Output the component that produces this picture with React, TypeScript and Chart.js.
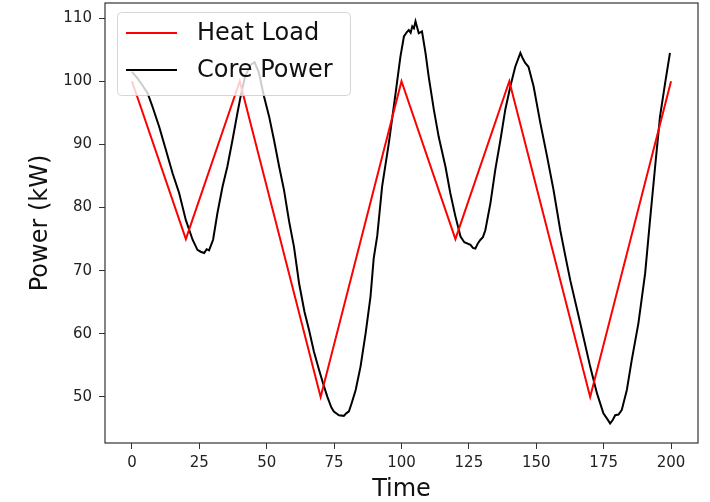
import React, { useEffect, useRef } from "react";
import { Chart, registerables } from "chart.js";

Chart.register(...registerables);

const FONT = '"DejaVu Sans", "Liberation Sans", sans-serif';

const seriesLabels = ["Heat Load", "Core Power"];

const heatTime = [0, 20, 40, 70, 100, 120, 140, 170, 200];
const heatLoad = [100, 75, 100, 50, 100, 75, 100, 50, 100];

const coreTime = [
  0, 2, 4, 5.8, 7.6, 10.1, 12.6, 15.1, 17.5, 20, 22.5, 24.3, 25.5, 26.8, 27.7, 28.6, 30.1, 31.7, 33.6,
  35.4, 37.3, 39.1, 40.4, 42, 44, 45.5, 47, 49, 50.9, 52.7, 54.6, 56.4, 58.3, 60.1, 62, 64, 65.7, 67.5,
  69.4, 71, 72.5, 74, 74.9, 76.8, 78.6, 79.5, 80.5, 81.5, 83, 84.8, 86.7, 88.5, 89.7, 91, 92.8, 95.3,
  97.8, 99.6, 100.9, 102, 102.7, 103.4, 104, 104.6, 105.2, 106.4, 107.6, 108.9, 110.1, 112, 113.8,
  116.3, 118.1, 120, 121.9, 123.3, 125.6, 126.5, 127.4, 128.3, 129.3, 130.2, 131.1, 133, 134.8, 136.7,
  138.5, 140.4, 142.2, 144.1, 145, 145.9, 147.1, 149, 151.5, 154, 156.4, 158.9, 160.7, 162.6, 166.3,
  170, 172.5, 174.9, 176.5, 177.4, 178.3, 179.3, 180.5, 181.7, 183.6, 185.4, 187.9, 190.4, 192.2,
  194.1, 195.9, 197.8, 199.6,
];
const corePower = [
  101.5, 100.5, 99.3, 98.1, 96, 92.8, 89.1, 85.4, 82.3, 78, 74.9, 73.3, 73.0, 72.8, 73.4, 73.2, 74.9,
  79.1, 83.3, 86.5, 90.7, 94.9, 97.8, 100.8, 102.6, 103, 101.5, 97.6, 94.4, 90.7, 86.5, 82.8, 77.8,
  73.8, 68, 63.5, 60.6, 57.2, 54.3, 52, 50, 48.3, 47.7, 47.1, 47.0, 47.4, 47.7, 49, 51.1, 54.8, 60.1,
  65.9, 72.0, 75.5, 83.3, 90.2, 98.1, 103.9, 107.1, 107.8, 108.1, 107.7, 108.7, 108.4, 109.5, 107.6,
  107.9, 104.5, 100.7, 95.5, 91.2, 86.5, 82.3, 78.6, 75.4, 74.5, 74.1, 73.6, 73.5, 74.3, 74.9, 75.3,
  76.4, 80.7, 86, 90.7, 95.5, 99.2, 102.3, 104.5, 103.6, 102.9, 102.3, 99.2, 93.4, 88.1, 82.8, 76.4,
  72.5, 68.5, 61.7, 54.8, 50.6, 47.4, 46.4, 45.8, 46.3, 47.1, 47.2, 47.9, 51.1, 55.8, 61.7, 69.6, 78,
  86.5, 94.4, 99.7, 104.5,
];

const xTicks = [0, 25, 50, 75, 100, 125, 150, 175, 200];
const yTicks = [50, 60, 70, 80, 90, 100, 110];

const xTitle = "Time";
const yTitle = "Power (kW)";

const legendPlugin = {
  id: "insideLegend",
  afterDatasetsDraw(chart: any) {
    const ctx = chart.ctx;
    ctx.save();
    const bx = 117.5, by = 12.5, bw = 233, bh = 83, r = 4;
    ctx.beginPath();
    ctx.moveTo(bx + r, by);
    ctx.lineTo(bx + bw - r, by);
    ctx.arcTo(bx + bw, by, bx + bw, by + r, r);
    ctx.lineTo(bx + bw, by + bh - r);
    ctx.arcTo(bx + bw, by + bh, bx + bw - r, by + bh, r);
    ctx.lineTo(bx + r, by + bh);
    ctx.arcTo(bx, by + bh, bx, by + bh - r, r);
    ctx.lineTo(bx, by + r);
    ctx.arcTo(bx, by, bx + r, by, r);
    ctx.closePath();
    ctx.fillStyle = "rgba(255,255,255,0.8)";
    ctx.fill();
    ctx.strokeStyle = "rgba(204,204,204,0.8)";
    ctx.lineWidth = 1;
    ctx.stroke();
    chart.data.datasets.forEach((ds: any, i: number) => {
      const y = 33 + i * 37;
      ctx.beginPath();
      ctx.strokeStyle = ds.borderColor;
      ctx.lineWidth = 2;
      ctx.moveTo(126, y);
      ctx.lineTo(177, y);
      ctx.stroke();
      ctx.fillStyle = "#111";
      ctx.font = `24px ${FONT}`;
      ctx.textBaseline = "middle";
      ctx.textAlign = "left";
      ctx.fillText(ds.label, 197, y + 1);
    });
    ctx.restore();
  },
};

const framePlugin = {
  id: "frame",
  afterDraw(chart: any) {
    const { left, top, right, bottom } = chart.chartArea;
    const ctx = chart.ctx;
    ctx.save();
    ctx.strokeStyle = "#333";
    ctx.lineWidth = 1.2;
    ctx.strokeRect(left, top, right - left, bottom - top);
    ctx.restore();
  },
};

export default function App() {
  const ref = useRef<HTMLCanvasElement | null>(null);
  useEffect(() => {
    if (!ref.current) return;
    const chart = new Chart(ref.current, {
      type: "line",
      data: {
        datasets: [
          {
            label: seriesLabels[0],
            data: heatTime.map((t, i) => ({ x: t, y: heatLoad[i] })),
            borderColor: "#ff0000",
            borderWidth: 2,
            pointRadius: 0,
            tension: 0,
            fill: false,
          },
          {
            label: seriesLabels[1],
            data: coreTime.map((t, i) => ({ x: t, y: corePower[i] })),
            borderColor: "#000000",
            borderWidth: 2,
            pointRadius: 0,
            tension: 0,
            fill: false,
          },
        ],
      },
      options: {
        animation: false,
        responsive: false,
        devicePixelRatio: 1,
        layout: { padding: { left: 0, right: 12, top: 3, bottom: 0 } },
        plugins: { legend: { display: false }, tooltip: { enabled: false } },
        scales: {
          x: {
            type: "linear",
            min: -10,
            max: 210,
            afterBuildTicks: (s: any) => {
              s.ticks = xTicks.map((v) => ({ value: v }));
            },
            afterFit: (s: any) => {
              s.height = 59;
              s.paddingLeft = 0;
              s.paddingRight = 0;
            },
            grid: { display: true, drawOnChartArea: false, drawTicks: true, tickLength: 6, tickColor: "#333" },
            border: { display: false },
            ticks: { color: "#222", font: { family: FONT, size: 15 }, padding: 5, maxRotation: 0, autoSkip: false },
            title: {
              display: true,
              text: xTitle,
              color: "#111",
              font: { family: FONT, size: 24, lineHeight: 1 },
              padding: { top: 0, bottom: 0 },
            },
          },
          y: {
            type: "linear",
            min: 42.7,
            max: 112.4,
            afterBuildTicks: (s: any) => {
              s.ticks = yTicks.map((v) => ({ value: v }));
            },
            afterFit: (s: any) => {
              s.width = 105;
              s.paddingTop = 0;
              s.paddingBottom = 0;
            },
            grid: { display: true, drawOnChartArea: false, drawTicks: true, tickLength: 6, tickColor: "#333" },
            border: { display: false },
            ticks: { color: "#222", font: { family: FONT, size: 15 }, padding: 7, autoSkip: false },
            title: {
              display: true,
              text: yTitle,
              color: "#111",
              font: { family: FONT, size: 24, lineHeight: 1.2 },
              padding: { top: 26, bottom: 0 },
            },
          },
        },
      },
      plugins: [legendPlugin, framePlugin],
    } as any);
    return () => chart.destroy();
  }, []);
  return (
    <div style={{ position: "absolute", left: 0, top: 0, width: 710, height: 502, background: "#fff" }}>
      <canvas ref={ref} width={710} height={502} style={{ display: "block" }} />
    </div>
  );
}
